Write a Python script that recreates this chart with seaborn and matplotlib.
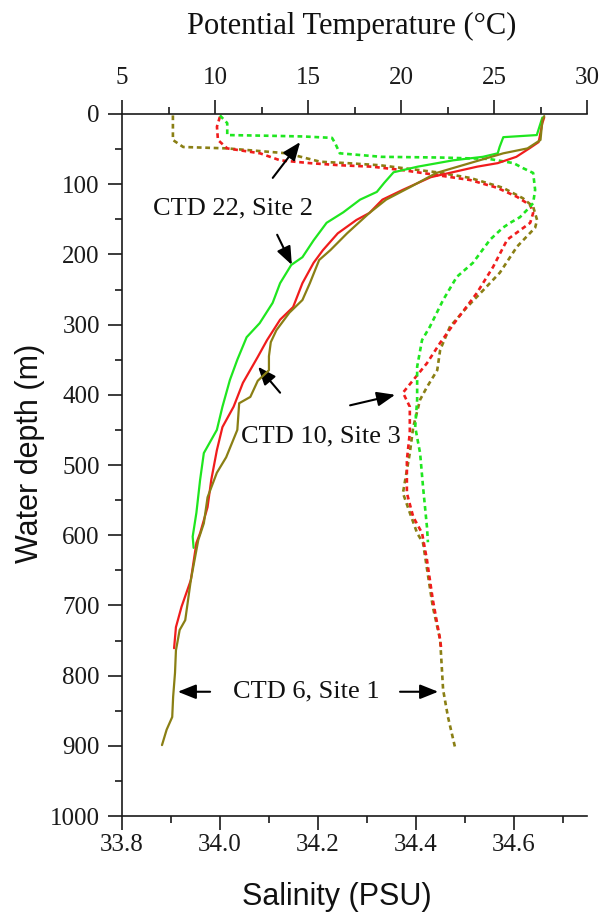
import matplotlib
matplotlib.use("Agg")
import matplotlib.pyplot as plt
from matplotlib.ticker import MultipleLocator, FormatStrFormatter
import seaborn as sns

# ---- CTD profiles: depth (m) with salinity (PSU) and potential temperature (°C) ----
# CTD 22, Site 2
g_sal_depth = [2, 13, 30, 31, 32, 34, 41, 56, 61, 62, 64, 70, 77, 84, 108, 127, 137, 147,
               155, 162, 179, 212, 232, 265, 303, 322, 360, 407, 446, 483, 531, 588, 610]
g_sal = [34.00, 34.015, 34.015, 34.10, 34.17, 34.229, 34.235, 34.245, 34.33, 34.45, 34.55,
         34.60, 34.619, 34.640, 34.644, 34.640, 34.627, 34.613, 34.593, 34.578, 34.552,
         34.517, 34.484, 34.456, 34.429, 34.413, 34.403, 34.403, 34.399, 34.409, 34.415,
         34.423, 34.425]
g_tmp_depth = [5, 30, 33, 47, 56, 61, 66, 75, 83, 98, 111, 122, 140, 155, 180, 204, 215,
               241, 269, 298, 318, 350, 379, 417, 450, 483, 521, 568, 602, 618]
g_tmp = [27.6, 27.3, 25.5, 25.3, 25.2, 24.4, 22.8, 20.9, 19.6, 19.1, 18.7, 17.8, 16.9, 16.0,
         15.3, 14.7, 14.1, 13.5, 13.1, 12.4, 11.7, 11.2, 10.8, 10.4, 10.1, 9.4, 9.2, 9.0,
         8.8, 8.85]

# CTD 10, Site 3
r_sal_depth = [4, 18, 37, 49, 56, 66, 70, 73, 75, 80, 87, 94, 105, 118, 130, 141, 155, 179,
               218, 255, 293, 326, 355, 379, 397, 417, 454, 493, 540, 574, 597, 635, 692,
               749, 761]
r_sal = [34.0, 33.994, 33.996, 34.015, 34.082, 34.123, 34.184, 34.245, 34.31, 34.374,
         34.443, 34.511, 34.566, 34.607, 34.634, 34.640, 34.634, 34.587, 34.558, 34.525,
         34.484, 34.450, 34.423, 34.395, 34.374, 34.388, 34.388, 34.382, 34.382, 34.395,
         34.413, 34.423, 34.435, 34.450, 34.452]
r_tmp_depth = [5, 13, 40, 49, 61, 70, 75, 84, 90, 108, 122, 141, 151, 170, 194, 212, 241,
               275, 293, 322, 346, 383, 417, 446, 479, 521, 560, 597, 611, 664, 702, 731, 761]
r_tmp = [27.7, 27.6, 27.4, 26.9, 26.2, 25.2, 24.1, 22.6, 21.6, 20.1, 19.0, 18.3, 17.6, 16.6,
         15.8, 15.3, 14.7, 14.2, 13.5, 12.8, 12.3, 11.5, 11.0, 10.4, 10.1, 9.8, 9.6, 9.2,
         9.0, 8.7, 8.2, 7.9, 7.8]

# CTD 6, Site 1
o_sal_depth = [2, 37, 47, 49, 56, 68, 70, 73, 83, 91, 105, 120, 132, 151, 162, 189, 226, 251,
               275, 303, 336, 365, 389, 407, 446, 483, 540, 568, 597, 611, 702, 749, 796,
               820, 859, 901]
o_sal = [33.904, 33.904, 33.925, 34.015, 34.137, 34.205, 34.260, 34.327, 34.443, 34.511,
         34.578, 34.619, 34.640, 34.648, 34.644, 34.607, 34.572, 34.538, 34.505, 34.470,
         34.450, 34.444, 34.423, 34.409, 34.395, 34.388, 34.374, 34.388, 34.403, 34.415,
         34.435, 34.450, 34.454, 34.456, 34.466, 34.480]
o_tmp_depth = [3, 9, 37, 49, 56, 70, 84, 104, 122, 141, 170, 194, 208, 241, 265, 283, 308,
               325, 345, 365, 380, 403, 412, 450, 489, 511, 546, 583, 607, 664, 721, 735,
               764, 796, 830, 859, 877, 899]
o_tmp = [27.7, 27.6, 27.5, 26.8, 25.5, 23.7, 21.9, 20.5, 19.2, 18.3, 17.1, 16.2, 15.6, 15.1,
         14.7, 14.0, 13.3, 13.0, 12.9, 12.9, 12.3, 11.9, 11.3, 11.2, 10.6, 10.1, 9.6, 9.4,
         9.1, 8.7, 8.4, 8.1, 7.9, 7.85, 7.75, 7.7, 7.4, 7.15]

cast_colors = {"CTD 22": "#1fe61f", "CTD 10": "#f01c1c", "CTD 6": "#8a7f14"}

sns.set_theme(style="ticks")
plt.rcParams["font.family"] = ["Liberation Serif", "DejaVu Serif"]
plt.rcParams["axes.linewidth"] = 1.2
plt.rcParams["axes.edgecolor"] = "#1a1a1a"

SERIF = ["Liberation Serif", "DejaVu Serif"]
SANS = ["Liberation Sans", "DejaVu Sans"]

fig = plt.figure(figsize=(6.04, 9.19), dpi=100)
ax = fig.add_axes([122 / 604, 1 - 816 / 919, 465 / 604, 702 / 919])
ax2 = ax.twiny()

# salinity on the bottom axis, dashed
dash = (0, (1.8, 1.4))
for depth, sal, name in [(o_sal_depth, o_sal, "CTD 6"),
                         (r_sal_depth, r_sal, "CTD 10"),
                         (g_sal_depth, g_sal, "CTD 22")]:
    sns.lineplot(x=sal, y=depth, ax=ax, sort=False, estimator=None,
                 color=cast_colors[name], lw=1.9, linestyle=dash)

# potential temperature on the top axis, solid
for depth, tmp, name in [(g_tmp_depth, g_tmp, "CTD 22"),
                         (r_tmp_depth, r_tmp, "CTD 10"),
                         (o_tmp_depth, o_tmp, "CTD 6")]:
    sns.lineplot(x=tmp, y=depth, ax=ax2, sort=False, estimator=None,
                 color=cast_colors[name], lw=1.6)

ax.set_xlim(33.8, 34.75)
ax.set_ylim(1000, 0)
ax2.set_xlim(5, 30)

ax.xaxis.set_major_locator(MultipleLocator(0.2))
ax.xaxis.set_minor_locator(MultipleLocator(0.1))
ax.xaxis.set_major_formatter(FormatStrFormatter("%.1f"))
ax.yaxis.set_major_locator(MultipleLocator(100))
ax.yaxis.set_minor_locator(MultipleLocator(50))
ax2.xaxis.set_major_locator(MultipleLocator(5))
ax2.xaxis.set_minor_locator(MultipleLocator(2.5))

for a in (ax, ax2):
    a.tick_params(which="major", direction="out", length=10, width=1.2,
                  labelsize=18, color="#1a1a1a", labelcolor="#1a1a1a")
    a.tick_params(which="minor", direction="out", length=5, width=1.2, color="#1a1a1a")
    a.grid(False)
    a.spines["right"].set_visible(False)
ax.tick_params(axis="x", which="both", top=False, pad=3)
ax.tick_params(axis="y", which="both", right=False, pad=6)
ax2.tick_params(axis="x", which="both", top=True, bottom=False, labeltop=True,
                labelbottom=False, pad=8)
ax.spines["top"].set_visible(False)
ax2.spines["left"].set_visible(False)
ax2.spines["bottom"].set_visible(False)
for lab in ax.get_xticklabels() + ax.get_yticklabels() + ax2.get_xticklabels():
    lab.set_family(SERIF)

ax.set_ylabel("Water depth (m)", fontsize=22, family=SANS, color="#111")
ax.yaxis.set_label_coords(-0.198, 0.517)
ax.yaxis.label.set_va("center")
ax.set_xlabel("Salinity (PSU)", fontsize=22, family=SANS, color="#111")
ax.xaxis.set_label_coords(0.462, -0.115)
ax.xaxis.label.set_va("center")
ax2.set_xlabel("Potential Temperature (°C)", fontsize=22, family=SERIF, color="#111")
ax2.xaxis.set_label_coords(0.495, 1.125)
ax2.xaxis.label.set_va("center")

# cast labels and pointers (salinity / depth coordinates)
txt = dict(fontsize=19, family=SERIF, ha="center", va="center", color="#111")
ax.text(34.027, 134, "CTD 22, Site 2", **txt)
ax.text(34.207, 459, "CTD 10, Site 3", **txt)
ax.text(34.177, 823, "CTD 6, Site 1", **txt)

arrow = dict(arrowstyle="-|>,head_length=0.55,head_width=0.22", color="black",
             lw=1.5, mutation_scale=20, shrinkA=0, shrinkB=0)
pointers = [((34.108, 91), (34.164, 40)),
            ((34.117, 172), (34.147, 215)),
            ((34.123, 397), (34.078, 360)),
            ((34.266, 415), (34.358, 400)),
            ((33.980, 823), (33.914, 823)),
            ((34.368, 823), (34.446, 823))]
for tail, head in pointers:
    ax.annotate("", xy=head, xytext=tail, arrowprops=arrow)

fig.savefig("out.png", dpi=100, facecolor="white")
